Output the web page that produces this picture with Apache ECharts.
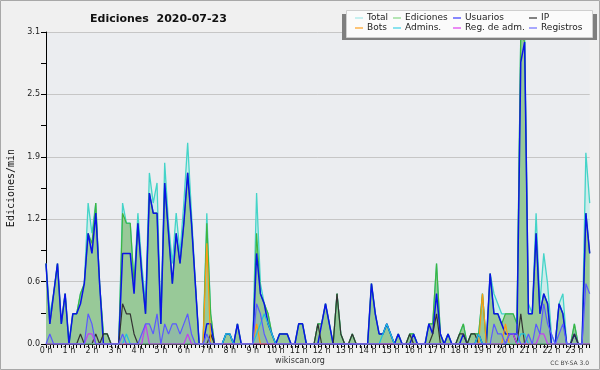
<!DOCTYPE html>
<html><head><meta charset="utf-8">
<script src="https://cdn.jsdelivr.net/npm/echarts@6/dist/echarts.min.js"></script>
<style>html,body{margin:0;padding:0;background:#f0f0f0}#c{width:600px;height:370px}</style>
</head><body><div id="c"></div>
<script>
const hourLabels = ['0 h','1 h','2 h','3 h','4 h','5 h','6 h','7 h','8 h','9 h','10 h','11 h','12 h','13 h','14 h','15 h','16 h','17 h','18 h','19 h','20 h','21 h','22 h','23 h'];
const slotMinutes = ['00','10','20','30','40','50'];
const yTickStep = 0.62;
const yMax = 3.1;

const total = [
0.8,0.3,0.5,0.8,0.2,0.5,0,0.3,0.3,0.5,
0.6,1.4,1.1,1.4,0.6,0.1,0.1,0,0,0,
1.4,1.2,1.2,0.6,1.3,0.8,0.4,1.7,1.4,1.6,
0.2,1.8,1.2,0.8,1.3,0.9,1.4,2.0,1.3,0.6,
0,0,1.3,0.3,0,0,0,0.1,0.1,0,
0.2,0,0,0,0,1.5,0.6,0.4,0.3,0.1,
0,0.1,0.1,0.1,0,0,0.2,0.2,0,0,
0,0.2,0.2,0.4,0.2,0,0.5,0.1,0,0,
0.1,0,0,0,0,0.6,0.3,0.1,0.1,0.2,
0.1,0,0.1,0,0,0.1,0.1,0,0,0,
0.2,0.2,0.8,0.1,0,0.1,0,0,0.1,0.2,
0,0.1,0.1,0.1,0.5,0,0.7,0.5,0.4,0.3,
0.3,0.3,0.3,0.2,3.1,3.1,0.4,0.3,1.3,0.4,
0.9,0.6,0.1,0,0.4,0.5,0,0,0.2,0,
0,1.9,1.4];

const ediciones = [
0.8,0.2,0.5,0.8,0.2,0.5,0,0.3,0.3,0.5,
0.6,1.1,1.0,1.4,0.6,0.1,0.1,0,0,0,
1.3,1.2,1.2,0.6,1.2,0.7,0.3,1.5,1.3,1.3,
0.2,1.6,1.1,0.6,1.1,0.8,1.2,1.7,1.2,0.6,
0,0,1.2,0.3,0,0,0,0.1,0.1,0,
0.2,0,0,0,0,1.1,0.5,0.4,0.3,0.1,
0,0.1,0.1,0.1,0,0,0.2,0.2,0,0,
0,0.2,0.2,0.4,0.2,0,0.5,0.1,0,0,
0.1,0,0,0,0,0.6,0.3,0.1,0.1,0.2,
0.1,0,0.1,0,0,0.1,0.1,0,0,0,
0.2,0.2,0.8,0.1,0,0.1,0,0,0.1,0.2,
0,0.1,0.1,0.1,0.5,0,0.7,0.3,0.3,0.2,
0.3,0.3,0.3,0.2,3.1,3.0,0.3,0.3,1.1,0.3,
0.5,0.4,0,0,0.4,0.3,0,0,0.2,0,
0,1.3,0.9];

const usuarios = [
0.8,0.2,0.5,0.8,0.2,0.5,0,0.3,0.3,0.4,
0.6,1.1,0.9,1.3,0.6,0,0,0,0,0,
0.9,0.9,0.9,0.5,1.2,0.7,0.3,1.5,1.3,1.3,
0.2,1.6,1.1,0.6,1.1,0.8,1.2,1.7,1.2,0.6,
0,0,0.2,0.2,0,0,0,0.1,0.1,0,
0.2,0,0,0,0,0.9,0.5,0.4,0.2,0.1,
0,0.1,0.1,0.1,0,0,0.2,0.2,0,0,
0,0,0.2,0.4,0.2,0,0,0,0,0,
0,0,0,0,0,0.6,0.3,0.1,0.1,0.2,
0.1,0,0.1,0,0,0,0.1,0,0,0,
0.2,0.1,0.5,0.1,0,0.1,0,0,0,0.1,
0,0,0,0.1,0,0,0.7,0.3,0.3,0.2,
0.1,0.1,0.1,0.1,2.8,3.0,0.3,0.3,1.1,0.3,
0.5,0.4,0,0,0.4,0.3,0,0,0.1,0,
0,1.3,0.9];

const ip = [
0,0,0,0,0,0,0,0,0,0.1,
0,0,0,0.1,0,0.1,0.1,0,0,0,
0.4,0.3,0.3,0.1,0,0,0,0,0,0,
0,0,0,0,0,0,0,0,0,0,
0,0,0,0.1,0,0,0,0,0,0,
0,0,0,0,0,0,0,0,0,0,
0,0,0,0,0,0,0,0,0,0,
0,0.2,0,0,0,0,0.5,0.1,0,0,
0.1,0,0,0,0,0,0,0,0,0,
0,0,0,0,0,0.1,0,0,0,0,
0,0.1,0.3,0,0,0,0,0,0.1,0.1,
0,0.1,0.1,0,0,0,0,0,0,0,
0,0.1,0.1,0,0.3,0,0,0,0,0,
0,0,0,0,0,0,0,0,0.1,0,
0,0,0];

const bots = [
0,0,0,0,0,0,0,0,0,0,
0,0,0,0,0,0,0,0,0,0,
0,0,0,0,0,0,0,0,0,0,
0,0,0,0,0,0,0,0,0,0,
0,0,1.0,0,0,0,0,0,0,0,
0,0,0,0,0,0.2,0,0,0,0,
0,0,0,0,0,0,0,0,0,0,
0,0,0,0,0,0,0,0,0,0,
0,0,0,0,0,0,0,0,0,0,
0,0,0,0,0,0,0,0,0,0,
0,0,0,0,0,0,0,0,0,0,
0,0,0,0,0.5,0,0,0,0,0,
0.2,0,0,0,0,0,0,0,0,0,
0,0,0,0,0,0,0,0,0,0,
0,0,0];

const admins = [
0,0,0,0,0,0,0,0,0,0,
0,0,0,0,0,0,0,0,0,0,
0,0.1,0,0,0,0,0,0,0,0,
0,0,0,0,0,0,0,0,0,0,
0,0,0,0,0,0,0,0.1,0.1,0,
0,0,0,0,0,0.1,0.2,0.3,0.2,0.1,
0,0,0,0,0,0,0,0,0,0,
0,0,0,0,0,0,0,0,0,0,
0,0,0,0,0,0,0,0,0.1,0.2,
0.1,0,0,0,0,0,0,0,0,0,
0,0,0,0,0,0,0,0,0,0,
0,0,0,0.1,0,0,0,0,0,0,
0,0,0,0,0.1,0.1,0,0,0,0,
0,0,0,0,0,0,0,0,0,0,
0,0,0];

const regAdm = [
0,0,0,0,0,0,0,0,0,0,
0,0.1,0.1,0,0,0,0,0,0,0,
0,0,0,0,0,0,0.2,0,0,0,
0,0,0,0,0,0,0,0.1,0,0,
0,0,0,0,0,0,0,0,0,0,
0,0,0,0,0,0,0,0,0,0,
0,0,0,0,0,0,0,0,0,0,
0,0,0,0,0,0,0,0,0,0,
0,0,0,0,0,0,0,0,0,0,
0,0,0,0,0,0,0,0,0,0,
0,0,0,0,0,0,0,0,0,0,
0,0,0,0,0,0,0,0,0,0,
0,0.1,0.1,0,0,0,0,0,0,0.1,
0.1,0,0,0,0,0,0,0,0,0,
0,0,0];

const registros = [
0,0.1,0,0,0,0,0,0,0,0,
0,0.3,0.2,0,0,0,0,0,0,0,
0.1,0,0,0,0,0.1,0.2,0.2,0.1,0.3,
0,0.2,0.1,0.2,0.2,0.1,0.2,0.3,0.1,0,
0,0,0.1,0,0,0,0,0,0,0,
0,0,0,0,0,0.4,0.3,0.1,0,0,
0,0,0,0,0,0,0,0,0,0,
0,0,0,0,0,0,0,0,0,0,
0,0,0,0,0,0,0,0,0,0,
0,0,0,0,0,0,0,0,0,0,
0,0,0,0,0,0,0,0,0,0,
0,0,0,0,0,0,0,0.2,0.1,0.1,
0,0.1,0.1,0.1,0,0,0.1,0,0.2,0.1,
0.4,0.2,0.1,0,0.1,0.2,0,0,0,0,
0,0.6,0.5];

const categories = [];
for (let i = 0; i < total.length; i++) {
  categories.push(hourLabels[Math.floor(i / 6)] + slotMinutes[i % 6]);
}

const FONT = 'DejaVu Sans';
function line(name, data, color, width, area) {
  const s = {
    name, type: 'line', data, symbol: 'none', smooth: false, silent: true,
    lineStyle: { color, width }, itemStyle: { color },
    emphasis: { disabled: true }
  };
  if (area) s.areaStyle = { color: area, opacity: 1 };
  return s;
}

const legendItems = [
  ['Total', '#a6eaea', 355, 13.5], ['Ediciones', '#86d886', 393, 13.5],
  ['Usuarios', '#3a3aff', 453, 13.5], ['IP', '#333333', 529, 13.5],
  ['Bots', '#ffa020', 355, 23.5], ['Admins.', '#3fd3e6', 393, 23.5],
  ['Reg. de adm.', '#e040f0', 453, 23.5], ['Registros', '#7070ff', 529, 23.5]
];

const chart = echarts.init(document.getElementById('c'), null, { renderer: 'canvas' });
chart.setOption({
  animation: false,
  backgroundColor: '#f0f0f0',
  title: [{
    text: 'Ediciones  2020-07-23', left: 85, top: 9,
    textStyle: { fontFamily: FONT, fontWeight: 'bold', fontSize: 11, color: '#111' }
  }],
  legend: legendItems.map(([name, color, x, y]) => ({
    data: [{ name, itemStyle: { color } }],
    left: x, top: y, padding: 0, itemWidth: 8, itemHeight: 1.2, icon: 'rect',
    selectedMode: false, z: 20,
    textStyle: { fontFamily: FONT, fontSize: 9, color: '#222', padding: [0, 0, 0, -1] }
  })),
  graphic: [
    { type: 'rect', silent: true, z: -10, shape: { x: 0.5, y: 0.5, width: 599, height: 369 },
      style: { fill: 'none', stroke: '#a8a8a8', lineWidth: 1 } },
    { type: 'rect', silent: true, z: 10, shape: { x: 342, y: 14, width: 255, height: 26 },
      style: { fill: '#7f7f7f' } },
    { type: 'rect', silent: true, z: 11, shape: { x: 346.5, y: 10.5, width: 246, height: 27 },
      style: { fill: '#fbfbfb', stroke: '#cfcfcf', lineWidth: 1 } },
    { type: 'text', silent: true, z: 12, x: 11, y: 188, rotation: Math.PI / 2,
      style: { text: 'Ediciones/min', font: '10px "DejaVu Sans Mono"', fill: '#111',
        textAlign: 'center', textVerticalAlign: 'middle' } },
    { type: 'text', silent: true, z: 12, x: 300, y: 361,
      style: { text: 'wikiscan.org', font: '8px "DejaVu Sans"', fill: '#333',
        textAlign: 'center', textVerticalAlign: 'middle' } },
    { type: 'text', silent: true, z: 12, x: 589, y: 363,
      style: { text: 'CC BY-SA 3.0', font: '6px "DejaVu Sans"', fill: '#444',
        textAlign: 'right', textVerticalAlign: 'middle' } }
  ],
  grid: { left: 46, top: 32, width: 543.7, height: 312, show: true,
    backgroundColor: '#ebedf0', borderWidth: 0 },
  xAxis: {
    type: 'category', data: categories, boundaryGap: false,
    axisLine: { lineStyle: { color: '#000', width: 1 } },
    axisTick: { interval: 0, length: 4, lineStyle: { color: '#000' } },
    axisLabel: {
      interval: (idx) => idx % 6 === 0,
      formatter: (v, idx) => hourLabels[Math.floor(idx / 6)],
      fontFamily: FONT, fontSize: 8, color: '#222', margin: 3
    },
    splitLine: { show: false }
  },
  yAxis: {
    type: 'value', min: 0, max: yMax, interval: yTickStep,
    axisLine: { show: true, lineStyle: { color: '#000', width: 1 } },
    axisTick: { show: true, length: 5, lineStyle: { color: '#000' } },
    minorTick: { show: true, splitNumber: 2, length: 5, lineStyle: { color: '#000' } },
    axisLabel: { formatter: (v) => v.toFixed(1), fontFamily: FONT, fontSize: 8, color: '#222', margin: 6 },
    splitLine: { show: true, lineStyle: { color: '#c6c6c6', width: 1 } }
  },
  series: [
    line('Total', total, '#44d4c8', 1.3, 'rgba(180,235,232,0.55)'),
    line('Ediciones', ediciones, '#3fb43f', 1.2, '#98c998'),
    line('Usuarios', usuarios, '#0a14e6', 1.5),
    line('IP', ip, '#333333', 1.2),
    line('Bots', bots, '#ff9a10', 1.2),
    line('Admins.', admins, '#1ec3dc', 1.2),
    line('Reg. de adm.', regAdm, '#c43ef0', 1.2),
    line('Registros', registros, '#5a5aff', 1.2, 'rgba(90,90,255,0.12)')
  ]
});
</script></body></html>
